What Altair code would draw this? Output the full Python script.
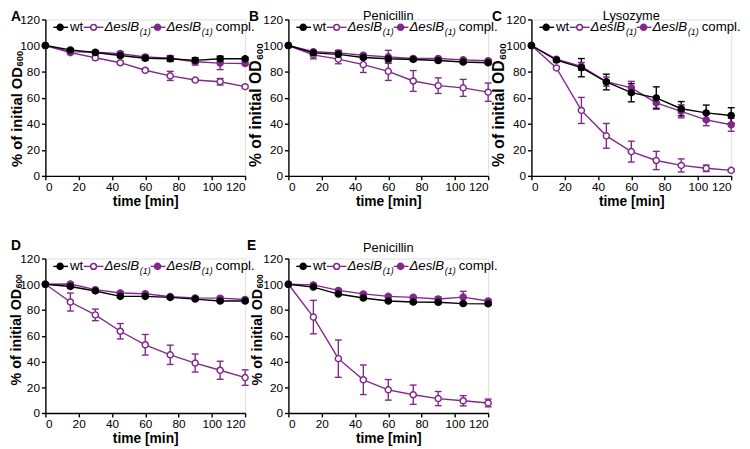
import altair as alt
import pandas as pd

PURPLE = "#80288c"
FONT = "Liberation Sans"

times = [0, 15, 30, 45, 60, 75, 90, 105, 120]
tick_vals = [0, 20, 40, 60, 80, 100, 120]

series_names = ["mut", "compl", "wt"]  # draw order

# Panel A
A_wt = [100, 96.6, 94.6, 92.3, 90.2, 89.8, 88.6, 89.8, 89.8]
A_wt_err = [0, 1, 1, 1.5, 1.5, 2, 2, 2, 1]
A_mut = [100, 94.5, 90.6, 86.8, 81.0, 76.7, 73.5, 72.2, 68.4]
A_mut_err = [0, 1, 1.5, 1, 1, 3.5, 1, 2.5, 1]
A_comp = [100, 95.3, 94.8, 93.8, 91.2, 90.2, 87.5, 86.5, 86.2]
A_comp_err = [0, 1, 1, 1.5, 1.5, 2, 2.5, 5, 1]

# Panel B (Penicillin)
B_wt = [100, 94.3, 93.2, 90.8, 89.8, 89.3, 88.5, 87.3, 86.8]
B_wt_err = [0, 1.5, 3, 1, 1.5, 1, 1, 1, 1]
B_mut = [100, 92.8, 89.5, 85.3, 80.2, 72.8, 69.2, 67.5, 64.2]
B_mut_err = [0, 3, 3.5, 6, 7, 8, 6, 6.5, 7]
B_comp = [100, 95.2, 94.3, 92.5, 91.3, 90.0, 90.0, 89.0, 88.3]
B_comp_err = [0, 1, 1, 1, 5, 1, 1, 1, 1]

# Panel C (Lysozyme)
C_wt = [100, 88.8, 83.0, 72.0, 63.8, 59.8, 51.5, 48.3, 46.3]
C_wt_err = [0, 1.5, 7, 6, 7, 8.5, 5.5, 6, 6]
C_mut = [100, 82.8, 50.2, 30.7, 18.6, 11.8, 8.0, 5.8, 4.2]
C_mut_err = [0, 1, 10, 9.5, 8, 7, 5, 2.5, 1]
C_comp = [100, 89.5, 84.0, 72.3, 67.5, 56.0, 49.5, 43.0, 39.2]
C_comp_err = [0, 1, 3, 3.5, 5, 4, 5, 4.5, 5]

# Panel D
D_wt = [100, 98.3, 94.8, 90.6, 90.6, 89.8, 88.5, 87.0, 87.0]
D_wt_err = [0, 1, 1, 1, 1, 1, 1, 1, 1]
D_mut = [100, 86.2, 76.2, 63.5, 53.0, 45.2, 38.8, 33.2, 27.5]
D_mut_err = [0, 7, 4.5, 6, 8, 7.5, 7, 7, 6]
D_comp = [100, 100.2, 95.8, 93.2, 92.6, 90.4, 89.4, 89.2, 88.2]
D_comp_err = [0, 1, 1, 1, 1, 1, 1, 1, 1]

# Panel E (Penicillin)
E_wt = [100, 97.8, 92.4, 89.3, 87.0, 86.2, 86.0, 85.0, 84.8]
E_wt_err = [0, 1, 1, 1, 1, 1, 1, 1, 1]
E_mut = [100, 74.5, 42.2, 25.8, 18.0, 14.2, 11.2, 9.5, 7.8]
E_mut_err = [0, 13, 14.5, 11.5, 8, 7.5, 5.5, 4, 3]
E_comp = [100, 99.5, 95.2, 92.5, 90.6, 89.8, 88.6, 90.0, 87.0]
E_comp_err = [0, 1, 1, 1, 1, 1, 1.5, 4.5, 1]


def make_df(wt, wte, mut, mute, comp, compe):
    rows = []
    for name, vals, errs in [("mut", mut, mute), ("compl", comp, compe), ("wt", wt, wte)]:
        for t, v, e in zip(times, vals, errs):
            rows.append({"s": name, "t": t, "v": v, "e": e, "lo": v - e, "hi": v + e})
    return pd.DataFrame(rows)


stroke_scale = alt.Scale(domain=series_names, range=[PURPLE, PURPLE, "black"])
fill_scale = alt.Scale(domain=series_names, range=["white", PURPLE, "black"])

annot = pd.DataFrame({"k": [0]})


def txt(text, x, y, size, weight="normal", style="normal", align="left",
        baseline="middle", angle=0, color="black"):
    kw = dict(text=text, align=align, baseline=baseline, fontSize=size,
              fontWeight=weight, fontStyle=style, font=FONT, color=color)
    if angle:
        kw["angle"] = angle
    return alt.Chart(annot).mark_text(**kw).encode(x=alt.value(x), y=alt.value(y))


def legend_layers(ly):
    L = []
    # wt
    L.append(alt.Chart(annot).mark_rule(color="black", strokeWidth=1.4).encode(
        x=alt.value(8), x2=alt.value(23), y=alt.value(ly)))
    L.append(alt.Chart(annot).mark_point(shape="circle", size=38, filled=True, fill="black",
                                         stroke="black", strokeWidth=1.5, opacity=1).encode(
        x=alt.value(15), y=alt.value(ly)))
    L.append(txt("wt", 25, ly, 13.5))
    # mutant
    L.append(alt.Chart(annot).mark_rule(color=PURPLE, strokeWidth=1.4).encode(
        x=alt.value(39), x2=alt.value(59), y=alt.value(ly)))
    L.append(alt.Chart(annot).mark_point(shape="circle", size=34, filled=True, fill="white",
                                         stroke=PURPLE, strokeWidth=1.5, opacity=1).encode(
        x=alt.value(49), y=alt.value(ly)))
    L.append(txt("\u0394eslB", 60, ly, 13.5, style="italic"))
    L.append(txt("(1)", 96, ly + 5, 9, style="italic"))
    # complemented
    L.append(alt.Chart(annot).mark_rule(color=PURPLE, strokeWidth=1.4).encode(
        x=alt.value(107), x2=alt.value(122), y=alt.value(ly)))
    L.append(alt.Chart(annot).mark_point(shape="circle", size=38, filled=True, fill=PURPLE,
                                         stroke=PURPLE, strokeWidth=1.5, opacity=1).encode(
        x=alt.value(114), y=alt.value(ly)))
    L.append(txt("\u0394eslB", 123, ly, 13.5, style="italic"))
    L.append(txt("(1)", 159, ly + 5, 9, style="italic"))
    L.append(txt("compl.", 173, ly, 13.5))
    return L


def panel(df, letter, letter_x, letter_y, title, title_y, w, h,
          yt_x, yt_y, yt_fs, sub_fs, sub_dx):
    xax = alt.Axis(values=tick_vals, title="time [min]", grid=False, tickSize=4,
                   tickWidth=1.4, tickColor="black", domainColor="black", domainWidth=1.4,
                   labelFontSize=12, labelColor="black", labelFont=FONT, labelPadding=2,
                   titleFont=FONT, titleFontSize=14, titleFontWeight="bold",
                   titleColor="black", titlePadding=2)
    yax = alt.Axis(values=tick_vals, title=None, grid=False, tickSize=4,
                   tickWidth=1.4, tickColor="black", domainColor="black", domainWidth=1.4,
                   labelFontSize=12, labelColor="black", labelFont=FONT, labelPadding=2)
    xs = alt.Scale(domain=[0, 120], nice=False)
    ys = alt.Scale(domain=[0, 120], nice=False)
    X = alt.X("t:Q", scale=xs, axis=xax)
    base = alt.Chart(df)
    lines = base.mark_line(strokeWidth=1.4).encode(
        x=X, y=alt.Y("v:Q", scale=ys, axis=yax),
        color=alt.Color("s:N", scale=stroke_scale, legend=None),
        detail="s:N", order="t:Q")
    ebase = base.transform_filter("datum.e > 0")
    rules = ebase.mark_rule(strokeWidth=1.4).encode(
        x=X, y=alt.Y("lo:Q", scale=ys, axis=yax), y2="hi:Q",
        color=alt.Color("s:N", scale=stroke_scale, legend=None))
    cap_lo = ebase.mark_tick(orient="horizontal", size=7, thickness=1.4, opacity=1).encode(
        x=X, y=alt.Y("lo:Q", scale=ys, axis=yax),
        color=alt.Color("s:N", scale=stroke_scale, legend=None))
    cap_hi = ebase.mark_tick(orient="horizontal", size=7, thickness=1.4, opacity=1).encode(
        x=X, y=alt.Y("hi:Q", scale=ys, axis=yax),
        color=alt.Color("s:N", scale=stroke_scale, legend=None))
    pts = base.mark_point(shape="circle", size=38, strokeWidth=1.5, opacity=1, filled=True).encode(
        x=X, y=alt.Y("v:Q", scale=ys, axis=yax),
        fill=alt.Fill("s:N", scale=fill_scale, legend=None),
        stroke=alt.Stroke("s:N", scale=stroke_scale, legend=None))
    layers = [lines, rules, cap_lo, cap_hi, pts]
    layers += legend_layers(8)
    layers.append(txt(letter, letter_x, letter_y, 14, weight="bold", baseline="alphabetic"))
    if title:
        layers.append(txt(title, w / 2, title_y, 13, align="center", baseline="alphabetic"))
    # y-axis title with subscript
    main_len = 6.779 * yt_fs
    layers.append(txt("% of initial OD", yt_x, yt_y, yt_fs, weight="bold",
                      baseline="alphabetic", angle=270))
    layers.append(txt("600", yt_x + sub_dx, yt_y - main_len - 0.5, sub_fs, weight="bold",
                      baseline="alphabetic", angle=270))
    return alt.layer(*layers).properties(width=w, height=h)


pA = panel(make_df(A_wt, A_wt_err, A_mut, A_mut_err, A_comp, A_comp_err),
           "A", -35, 1.7, None, 0.7, 203, 159, -24, 150, 15, 9.5, 1.5)
pB = panel(make_df(B_wt, B_wt_err, B_mut, B_mut_err, B_comp, B_comp_err),
           "B", -40, 1.7, "Penicillin", 0.7, 203, 159, -27.5, 150, 16, 10, 1.5)
pC = panel(make_df(C_wt, C_wt_err, C_mut, C_mut_err, C_comp, C_comp_err),
           "C", -40, 1.7, "Lysozyme", 0.7, 203, 159, -27.5, 150, 16, 10, 1.5)
pD = panel(make_df(D_wt, D_wt_err, D_mut, D_mut_err, D_comp, D_comp_err),
           "D", -35, -9, None, -7, 203, 157, -24.5, 129, 14.5, 8.5, 0.5)
pE = panel(make_df(E_wt, E_wt_err, E_mut, E_mut_err, E_comp, E_comp_err),
           "E", -42, -9, "Penicillin", -7, 203, 157, -27, 129, 14.5, 8.5, 1.5)

chart = alt.concat(pA, pB, pC, pD, pE, columns=3).properties(
    spacing={"row": 84, "column": 44},
    bounds="flush",
    padding={"left": 0, "top": -2, "right": 0, "bottom": 0},
).configure_view(strokeWidth=0).configure(font=FONT)

chart.save("out.html", embed_options={"renderer": "svg", "actions": False})
